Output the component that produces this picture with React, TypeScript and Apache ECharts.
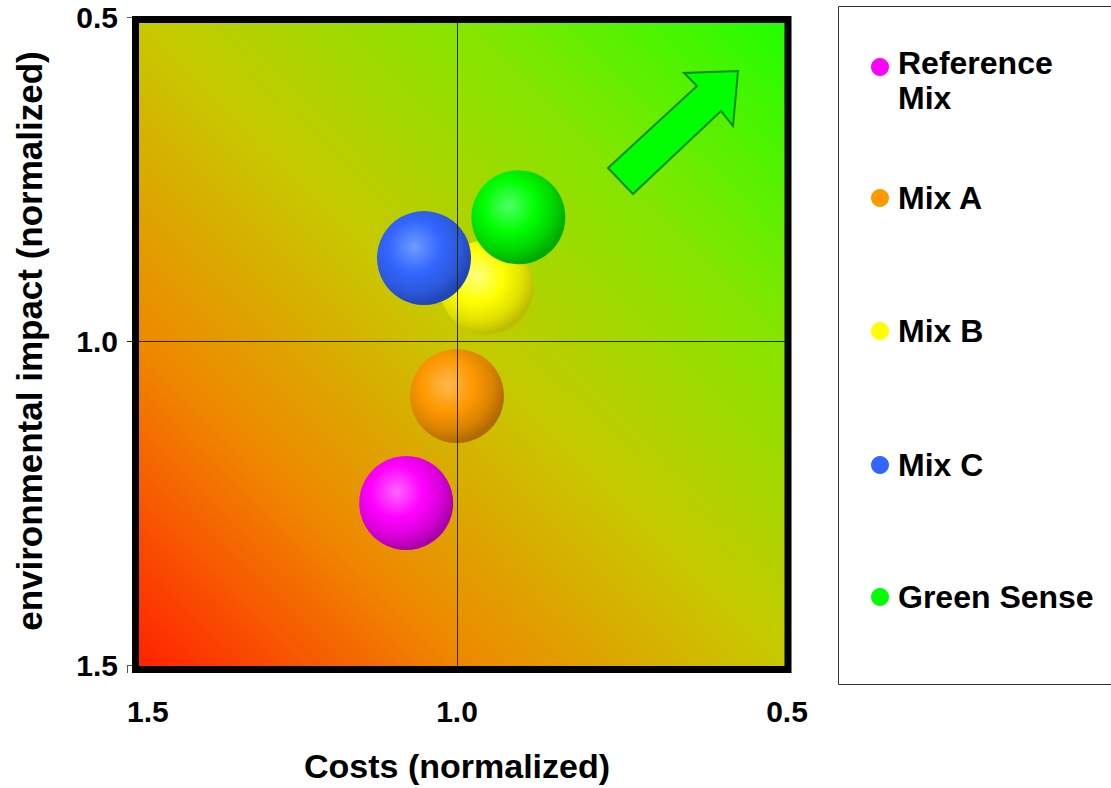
import React, { useEffect, useRef } from 'react';
import * as echarts from 'echarts';

// ---- data ----
const seriesNames = ['Reference Mix', 'Mix A', 'Mix B', 'Mix C', 'Green Sense'];
const costs = [1.077, 1.0, 0.955, 1.05, 0.907];
const envImpact = [1.25, 1.085, 0.917, 0.872, 0.809];
const axisTicks = [0.5, 1.0, 1.5];
const xAxisName = 'Costs (normalized)';
const yAxisName = 'environmental impact (normalized)';

// ---- styles ----
const baseColors = ['#FF00FF', '#FF9900', '#FFFF00', '#3366FF', '#00FF00'];
const lightColors = ['#FF66FF', '#FFB84D', '#FFFF80', '#6E9BFF', '#4DFF66'];
const midColors = ['#D600D6', '#D98300', '#E0E000', '#2C58DA', '#00D400'];
const darkColors = ['#AA00AA', '#B06A00', '#BDBD00', '#2245B5', '#00AA00'];
const legendY = [67, 198, 331, 465, 597];
const FONT = 'Liberation Sans';

export default function App() {
  const ref = useRef<HTMLDivElement>(null);
  useEffect(() => {
    const chart = echarts.init(ref.current!, null, { renderer: 'svg' });
    const sphere = (i: number) =>
      new echarts.graphic.RadialGradient(0.4, 0.38, 0.62, [
        { offset: 0, color: lightColors[i] },
        { offset: 0.45, color: baseColors[i] },
        { offset: 0.78, color: midColors[i] },
        { offset: 1, color: darkColors[i] },
      ]);
    const bg = new echarts.graphic.LinearGradient(0, 1, 1, 0, [
      { offset: 0, color: '#FF2000' },
      { offset: 0.25, color: '#F08600' },
      { offset: 0.5, color: '#C8C800' },
      { offset: 0.75, color: '#84E600' },
      { offset: 1, color: '#20FF00' },
    ]);

    const scatterSeries = seriesNames.map((name, i) => ({
      type: 'scatter',
      name,
      data: [[costs[i], envImpact[i]]],
      symbolSize: 94,
      itemStyle: { color: sphere(i), opacity: 1 },
      z: 2,
    }));

    const legendEls: any[] = [
      {
        type: 'rect',
        shape: { x: 838.5, y: 6.5, width: 300, height: 678 },
        style: { fill: '#fff', stroke: '#333', lineWidth: 1 },
        z: 0,
      },
    ];
    seriesNames.forEach((name, i) => {
      const multi = name === 'Reference Mix';
      legendEls.push({
        type: 'circle',
        shape: { cx: 880, cy: legendY[i], r: 9 },
        style: { fill: baseColors[i] },
        z: 1,
      });
      legendEls.push({
        type: 'text',
        x: 898,
        y: multi ? legendY[i] + 13 : legendY[i],
        style: {
          text: multi ? name.replace(' ', '\n') : name,
          fontSize: 32,
          fontWeight: 'bold',
          fontFamily: FONT,
          fill: '#000',
          verticalAlign: 'middle',
          align: 'left',
          lineHeight: 35,
        },
        z: 1,
      });
    });

    const labelStyle = {
      fontSize: 30,
      fontWeight: 'bold',
      fontFamily: FONT,
      color: '#000',
      formatter: (v: number) => v.toFixed(1),
    };
    const nameStyle = { fontWeight: 'bold', fontFamily: FONT, color: '#000' };

    chart.setOption({
      animation: false,
      grid: { left: 127, top: 17, width: 660, height: 652 },
      xAxis: {
        type: 'value',
        inverse: true,
        min: axisTicks[0],
        max: axisTicks[2],
        interval: axisTicks[1] - axisTicks[0],
        axisLine: { show: false },
        splitLine: { show: false },
        axisTick: { show: true, length: 8, lineStyle: { color: '#555' } },
        axisLabel: { ...labelStyle, margin: 31, alignMaxLabel: 'left' },
        name: xAxisName,
        nameLocation: 'middle',
        nameGap: 84,
        nameTextStyle: { ...nameStyle, fontSize: 34 },
      },
      yAxis: {
        type: 'value',
        inverse: true,
        min: axisTicks[0],
        max: axisTicks[2],
        interval: axisTicks[1] - axisTicks[0],
        axisLine: { show: false },
        splitLine: { show: false },
        axisTick: { show: true, inside: true, length: 5, lineStyle: { color: '#555' } },
        axisLabel: { ...labelStyle, margin: 9 },
        name: yAxisName,
        nameLocation: 'middle',
        nameGap: 80,
        nameRotate: 90,
        nameTextStyle: { ...nameStyle, fontSize: 35 },
      },
      graphic: [
        {
          type: 'rect',
          shape: { x: 135.5, y: 19.5, width: 652.5, height: 650 },
          style: { fill: bg },
          z: -1,
          silent: true,
        },
        {
          type: 'rect',
          shape: { x: 135.5, y: 19.5, width: 652.5, height: 650 },
          style: { fill: 'none', stroke: '#000', lineWidth: 7 },
          z: 100,
          silent: true,
        },
        {
          type: 'polygon',
          shape: {
            points: [[608, 168], [697, 86], [684, 73], [738, 71], [733, 126], [721, 111], [633, 194]],
          },
          style: { fill: '#00FF00', stroke: '#148A14', lineWidth: 2 },
          z: 3,
          silent: true,
        },
        ...legendEls,
      ],
      series: [
        {
          type: 'line',
          data: [],
          z: 1,
          silent: true,
          markLine: {
            silent: true,
            symbol: 'none',
            label: { show: false },
            lineStyle: { color: '#2a2a00', width: 1, type: 'solid' },
            data: [{ xAxis: axisTicks[1] }, { yAxis: axisTicks[1] }],
          },
        },
        ...scatterSeries,
      ],
    });
    return () => chart.dispose();
  }, []);
  return (
    <div
      ref={ref}
      style={{ position: 'absolute', left: 0, top: 0, width: 1111, height: 788 }}
    />
  );
}
